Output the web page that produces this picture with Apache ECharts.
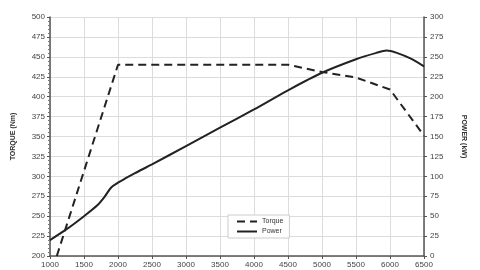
<!DOCTYPE html>
<html>
<head>
<meta charset="utf-8">
<script src="https://cdn.jsdelivr.net/npm/echarts@6/dist/echarts.min.js"></script>
<style>
html,body{margin:0;padding:0;background:#fff;}
#c{width:480px;height:270px;}
</style>
</head>
<body>
<div id="c"></div>
<script>
var torqueRpm = [1100, 2000, 4500, 5000, 5500, 6000, 6500];
var torqueNm  = [200, 440, 440, 431, 424, 409, 351];
var powerRpm  = [1000, 1250, 1500, 1700, 1800, 1900, 2000, 2100, 2250, 2500, 3000, 3500, 4000, 4500, 5000, 5500, 5800, 5950, 6100, 6300, 6500];
var powerKw   = [20, 34, 50, 64, 74, 86, 92, 97, 104, 115, 138, 161, 184, 208, 230, 247, 255, 258, 255, 248, 238];
var seriesNames = ['Torque', 'Power'];
var leftAxisName = 'TORQUE (Nm)';
var rightAxisName = 'POWER (kW)';

function pairs(xs, ys){ return xs.map(function(x,i){ return [x, ys[i]]; }); }

var labelStyle = {fontFamily:'Liberation Sans, Arial, sans-serif', fontSize:8, color:'#444'};
var chart = echarts.init(document.getElementById('c'), null, {renderer:'canvas'});
chart.setOption({
  animation:false,
  backgroundColor:'#fff',
  grid:{left:50, right:56, top:17, bottom:14},
  legend:{
    orient:'vertical', left:228, top:215,
    data:seriesNames,
    backgroundColor:'#fff', borderColor:'#ccc', borderWidth:1,
    padding:[3,6,3,8], itemGap:3, itemWidth:20, itemHeight:8,
    itemStyle:{opacity:0},
    textStyle:{fontFamily:'Liberation Sans, Arial, sans-serif', fontSize:7, color:'#333'}
  },
  xAxis:{
    type:'value', min:1000, max:6500, interval:500,
    axisLine:{lineStyle:{color:'#555', width:1.5}},
    axisTick:{show:true, length:3, lineStyle:{color:'#555'}},
    axisLabel:Object.assign({margin:5, formatter:function(v){return String(v);}}, labelStyle),
    splitLine:{show:true, lineStyle:{color:'#dcdcdc', width:1}}
  },
  yAxis:[
    {
      type:'value', min:200, max:500, interval:25, position:'left',
      name:leftAxisName, nameLocation:'middle', nameGap:33, nameRotate:90,
      nameTextStyle:{fontFamily:'Liberation Sans, Arial, sans-serif', fontSize:7, fontWeight:'bold', color:'#333'},
      axisLine:{show:true, lineStyle:{color:'#555', width:1.5}},
      axisTick:{show:true, length:3, lineStyle:{color:'#555'}},
      minorTick:{show:true, splitNumber:5, length:2, lineStyle:{color:'#777'}},
      axisLabel:Object.assign({margin:5}, labelStyle),
      splitLine:{show:true, lineStyle:{color:'#dcdcdc', width:1}}
    },
    {
      type:'value', min:0, max:300, interval:25, position:'right',
      name:rightAxisName, nameLocation:'middle', nameGap:36, nameRotate:-90,
      nameTextStyle:{fontFamily:'Liberation Sans, Arial, sans-serif', fontSize:7, fontWeight:'bold', color:'#333'},
      axisLine:{show:true, lineStyle:{color:'#555', width:1.5}},
      axisTick:{show:true, length:3, lineStyle:{color:'#555'}},
      axisLabel:Object.assign({margin:6}, labelStyle),
      splitLine:{show:false}
    }
  ],
  series:[
    {
      name:seriesNames[0], type:'line', yAxisIndex:0, symbol:'none',
      data:pairs(torqueRpm, torqueNm),
      lineStyle:{color:'#222', width:2, type:[8,5]},
      itemStyle:{color:'#222'}
    },
    {
      name:seriesNames[1], type:'line', yAxisIndex:1, symbol:'none', smooth:0.3,
      data:pairs(powerRpm, powerKw),
      lineStyle:{color:'#222', width:2},
      itemStyle:{color:'#222'}
    }
  ]
});
</script>
</body>
</html>
